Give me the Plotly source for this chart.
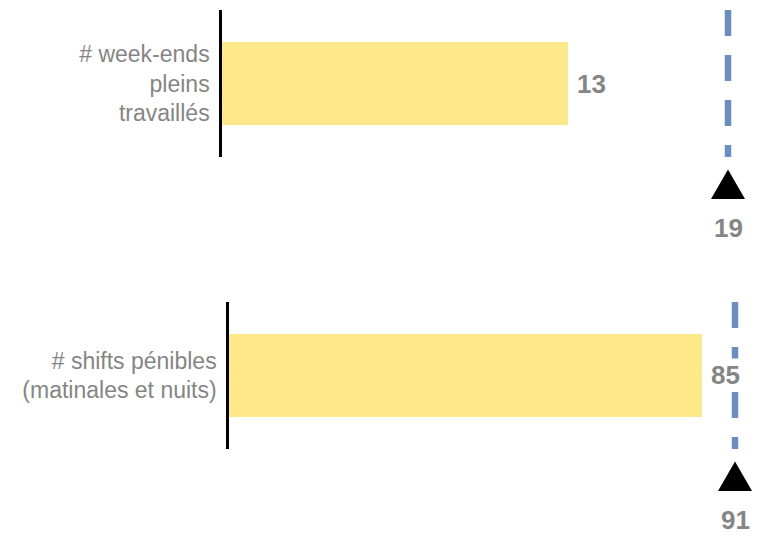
import plotly.graph_objects as go

# ---- data ----
categories = ["# week-ends<br>pleins<br>travaillés", "# shifts pénibles<br>(matinales et nuits)"]
values = [13, 85]
references = [19, 91]

# ---- style ----
W, H = 765, 541
BAR_COLOR = "#FDE88A"
LINE_COLOR = "#6C8EBF"
TEXT_GRAY = "#858585"
FONT = "Liberation Sans, Arial, Helvetica, sans-serif"
PX_PER_REF = 506.0
RANGE_K = 1.05

x_left_px = [222, 229]
y_domains = [[0.665, 1.0], [0.0, 0.335]]

fig = go.Figure()
shapes = []
annotations = []

for i, (cat, val, ref) in enumerate(zip(categories, values, references)):
    sfx = "" if i == 0 else str(i + 1)
    xa, ya = "x" + sfx, "y" + sfx
    fig.add_trace(go.Bar(
        x=[val], y=[cat], orientation="h", width=0.56,
        marker=dict(color=BAR_COLOR, line=dict(width=0)),
        xaxis=xa, yaxis=ya, hoverinfo="skip", showlegend=False,
    ))
    xmax = ref * RANGE_K
    width_px = PX_PER_REF * RANGE_K
    dom = [x_left_px[i] / W, (x_left_px[i] + width_px) / W]
    fig.layout["xaxis" + sfx] = dict(domain=dom, range=[0, xmax], visible=False,
                                     anchor=ya, fixedrange=True)
    fig.layout["yaxis" + sfx] = dict(
        domain=y_domains[i], anchor=xa, range=[-0.5, 0.5], type="category",
        showline=True, linecolor="black", linewidth=2.5, showgrid=False,
        zeroline=False, ticks="", ticklabelstandoff=5,
        tickfont=dict(family=FONT, size=23, color=TEXT_GRAY), fixedrange=True,
    )
    # dashed reference line
    shapes.append(dict(type="line", xref=xa, yref=ya + " domain",
                       x0=ref, x1=ref, y0=1, y1=0,
                       line=dict(color=LINE_COLOR, width=6.5, dash="26px,19px")))
    # triangle marker below subplot
    shapes.append(dict(type="path", xref=xa, yref=ya + " domain",
                       xsizemode="pixel", xanchor=ref,
                       ysizemode="pixel", yanchor=0,
                       path="M-17,-42 L17,-42 L0,-12.5 Z",
                       fillcolor="black", line=dict(width=0)))
    # value label
    annotations.append(dict(xref=xa, yref=ya, x=val, y=cat, xanchor="left",
                            yanchor="middle", xshift=7, showarrow=False,
                            text="<b>%d</b>" % val, bgcolor="white",
                            font=dict(family=FONT, size=26, color=TEXT_GRAY)))
    # reference label
    annotations.append(dict(xref=xa, yref=ya + " domain", x=ref, y=0,
                            xanchor="center", yanchor="middle", yshift=-70.5,
                            showarrow=False, text="<b>%d</b>" % ref,
                            font=dict(family=FONT, size=26, color=TEXT_GRAY)))

fig.update_layout(
    width=W, height=H,
    margin=dict(l=0, r=0, t=10, b=92),
    paper_bgcolor="white", plot_bgcolor="white",
    shapes=shapes, annotations=annotations,
    showlegend=False, bargap=0,
)

fig.write_html("out.html", config={"displayModeBar": False},
               post_script="document.body.style.margin='0';document.body.style.overflow='hidden';")
